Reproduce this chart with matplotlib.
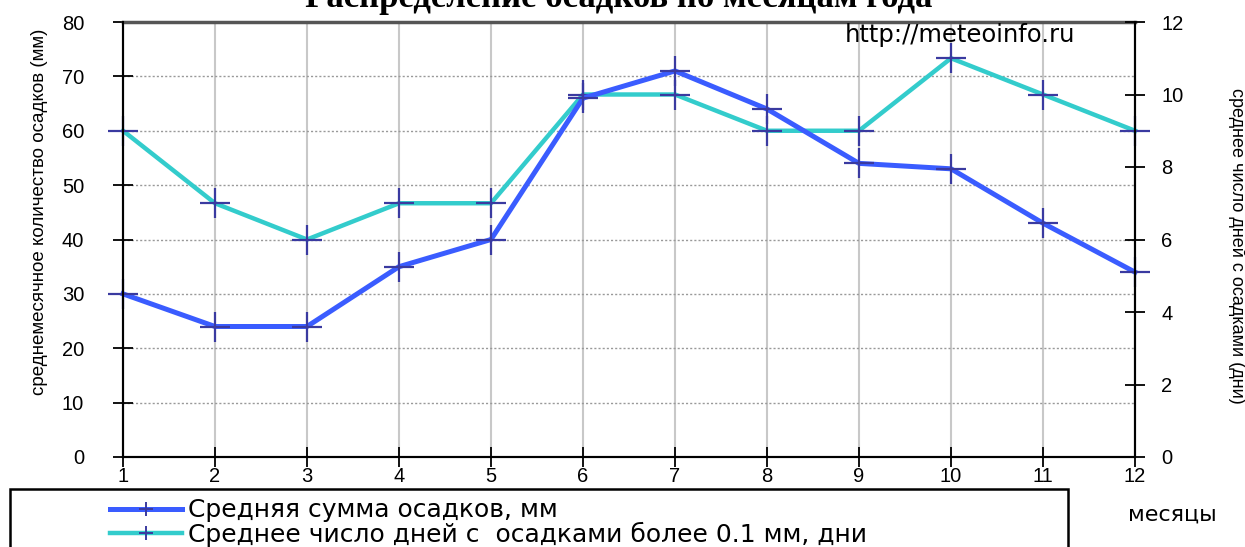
import matplotlib
matplotlib.use("Agg")
import matplotlib.pyplot as plt
from matplotlib.lines import Line2D
from matplotlib.patches import Rectangle

# Данные (читаются с графика)
months = [1, 2, 3, 4, 5, 6, 7, 8, 9, 10, 11, 12]
precip_mm = [30, 24, 24, 35, 40, 66, 71, 64, 54, 53, 43, 34]
rain_days = [9, 7, 6, 7, 7, 10, 10, 9, 9, 11, 10, 9]

title = "Распределение осадков по месяцам года"
left_label = "среднемесячное количество осадков (мм)"
right_label = "среднее число дней с осадками (дни)"
legend_labels = ["Средняя сумма осадков, мм",
                 "Среднее число дней с  осадками более 0.1 мм, дни"]

plt.rcParams["font.family"] = ["Liberation Sans", "DejaVu Sans"]

BLUE = "#3a5cff"
CYAN = "#33cccc"
NAVY = "#3a3aa0"

fig = plt.figure(figsize=(12.45, 5.47), dpi=100)
W, H = 1245, 547
ax = fig.add_axes([123 / W, 1 - 457 / H, (1135 - 123) / W, (457 - 22) / H])
ax2 = ax.twinx()

ax.set_xlim(1, 12)
ax.set_ylim(0, 80)
ax2.set_ylim(0, 12)

# Сетка
ax.set_xticks(months)
ax.set_yticks(range(0, 81, 10))
ax2.set_yticks(range(0, 13, 2))
ax.grid(axis="x", color="#c8c8c8", lw=1.5, ls="-", zorder=0)
ax.grid(axis="y", color="#999999", lw=1.0, ls=(0, (1.5, 1.5)), zorder=0)
ax.set_axisbelow(True)

# Линии (голубая строится по правой шкале, но в той же области, чтобы синяя была сверху)
ax.plot(months, rain_days, color=CYAN, lw=3.2, transform=ax2.transData,
        marker="+", ms=22, mec=NAVY, mew=1.6, zorder=3, clip_on=False)
ax.plot(months, precip_mm, color=BLUE, lw=3.6,
        marker="+", ms=22, mec=NAVY, mew=1.6, zorder=4, clip_on=False)

# Оси
for s in ["left", "right", "bottom"]:
    ax.spines[s].set_linewidth(1.5)
    ax2.spines[s].set_linewidth(1.5)
ax.spines["top"].set_color("#555555")
ax.spines["top"].set_linewidth(2.5)
ax2.spines["top"].set_visible(False)

ax.tick_params(axis="y", direction="inout", length=14, width=1.3, pad=21, labelsize=14.5)
ax.tick_params(axis="x", direction="inout", length=14, width=1.3, pad=0.5, labelsize=14.5)
ax2.tick_params(axis="y", direction="inout", length=14, width=1.3, pad=12, labelsize=14.5)

ax.set_ylabel(left_label, fontsize=13.5)
ax.yaxis.label.set_va("center")
ax.yaxis.set_label_coords((40 - 123) / 1012, (457 - 212) / 435)
ax2.set_ylabel(right_label, fontsize=13, rotation=270)
ax2.yaxis.label.set_va("center")
ax2.yaxis.set_label_coords((1237 - 123) / 1012, (457 - 246) / 435)

# Заголовок (обрезан сверху, как в оригинале)
fig.text(0.497, 1 - 7 / H, title, ha="center", va="baseline",
         fontsize=25, fontweight="bold", family="Liberation Serif")

fig.text(960 / W, 1 - 35 / H, "http://meteoinfo.ru", ha="center", va="center",
         fontsize=17.5, family="DejaVu Sans")

# Легенда
fig.patches.append(Rectangle((10 / W, -0.05), (1068 - 10) / W, 0.05 + 1 - 489 / H,
                             transform=fig.transFigure, fill=False, ec="black", lw=1.8))
handles = [
    Line2D([], [], color=BLUE, lw=3.6, marker="+", ms=10, mec=NAVY, mew=1.4),
    Line2D([], [], color=CYAN, lw=3.2, marker="+", ms=10, mec=NAVY, mew=1.4),
]
fig.legend(handles, legend_labels, loc="upper left",
           bbox_to_anchor=(97 / W, 1 - 486 / H), frameon=False,
           handlelength=2.9, handletextpad=0.25, labelspacing=-0.03,
           borderpad=0.0, prop={"family": "DejaVu Sans", "size": 18})

fig.text(1172 / W, 1 - 515 / H, "месяцы", ha="center", va="center",
         fontsize=16, family="DejaVu Sans")

fig.savefig("out.png", dpi=100)
